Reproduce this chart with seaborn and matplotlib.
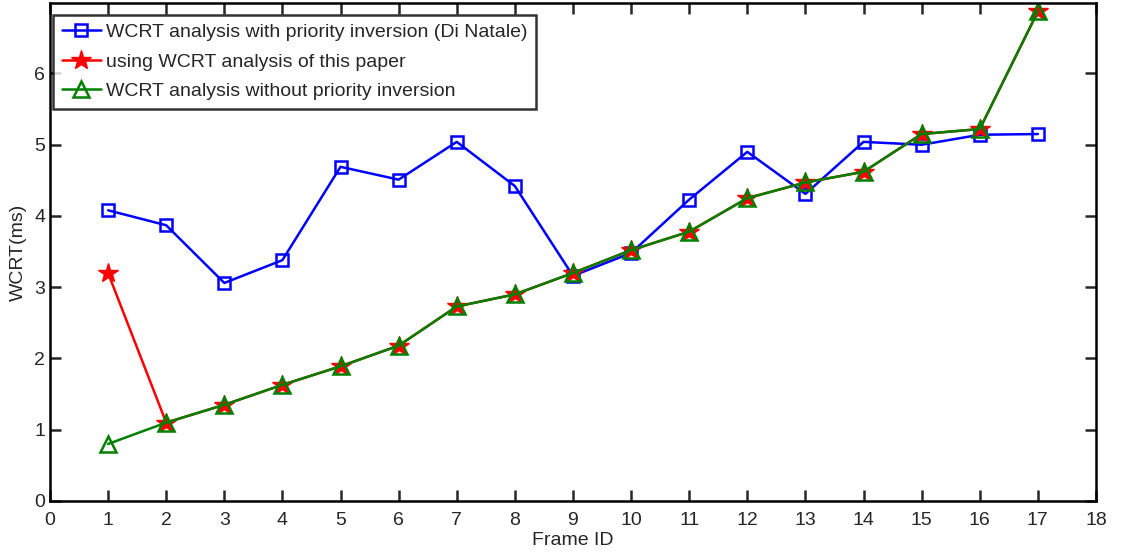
import matplotlib
matplotlib.use("Agg")
import matplotlib.pyplot as plt
import seaborn as sns
import numpy as np

frame_ids = list(range(1, 18))
di_natale = [4.08, 3.87, 3.06, 3.38, 4.69, 4.51, 5.04, 4.42, 3.16, 3.48,
             4.23, 4.90, 4.31, 5.04, 5.00, 5.14, 5.15]
this_paper = [3.20, 1.10, 1.35, 1.63, 1.89, 2.18, 2.73, 2.90, 3.20, 3.52,
              3.78, 4.25, 4.47, 4.62, 5.15, 5.22, 6.87]
no_inversion = [0.80, 1.10, 1.35, 1.63, 1.89, 2.18, 2.73, 2.90, 3.20, 3.52,
                3.78, 4.25, 4.47, 4.62, 5.15, 5.22, 6.87]
labels = ["WCRT analysis with priority inversion (Di Natale)",
          "using WCRT analysis of this paper",
          "WCRT analysis without priority inversion"]

sns.set_style("white")
plt.rcParams['font.family'] = ['Liberation Sans', 'DejaVu Sans']

fig = plt.figure(figsize=(11.3, 5.54), dpi=100)
ax = fig.add_axes([0.0442, 0.0957, 0.9257, 0.899])

sns.lineplot(x=frame_ids, y=di_natale, ax=ax, color='#0000ff', marker='s',
             markersize=8.5, markerfacecolor='none', markeredgecolor='#0000ff',
             markeredgewidth=1.8, linewidth=1.8, label=labels[0])
sns.lineplot(x=frame_ids, y=this_paper, ax=ax, color='#ff0000', marker='*',
             markersize=15, markerfacecolor='#ff0000', markeredgecolor='#ff0000',
             markeredgewidth=1.0, linewidth=1.8, label=labels[1])
sns.lineplot(x=frame_ids, y=no_inversion, ax=ax, color='#008000', marker='^',
             markersize=12, markerfacecolor='none', markeredgecolor='#008000',
             markeredgewidth=1.8, linewidth=1.8, label=labels[2])

ax.set_xlim(0, 18)
ax.set_ylim(0, 6.99)
ax.set_xticks(range(0, 19))
ax.set_yticks(range(0, 7))
ax.set_xlabel("Frame ID", fontsize=14, labelpad=2)
ax.set_ylabel("WCRT(ms)", fontsize=14)
ax.yaxis.set_label_coords(-0.022, 0.5)
ax.tick_params(axis='x', pad=8)
ax.tick_params(axis='y', pad=3.5)
ax.tick_params(direction='in', length=8, width=1.8, labelsize=14,
               top=True, right=True, bottom=True, left=True)
for s in ax.spines.values():
    s.set_linewidth(1.8)
    s.set_color('black')
    s.set_visible(True)

leg = ax.legend(loc='upper left', bbox_to_anchor=(0.003, 0.976), fontsize=14,
                frameon=True, fancybox=False, edgecolor='black', borderpad=0.45,
                handlelength=2.0, labelspacing=0.6, borderaxespad=0.0,
                handletextpad=0.28)
leg.get_frame().set_linewidth(1.8)

fig.savefig("out.png", dpi=100)
